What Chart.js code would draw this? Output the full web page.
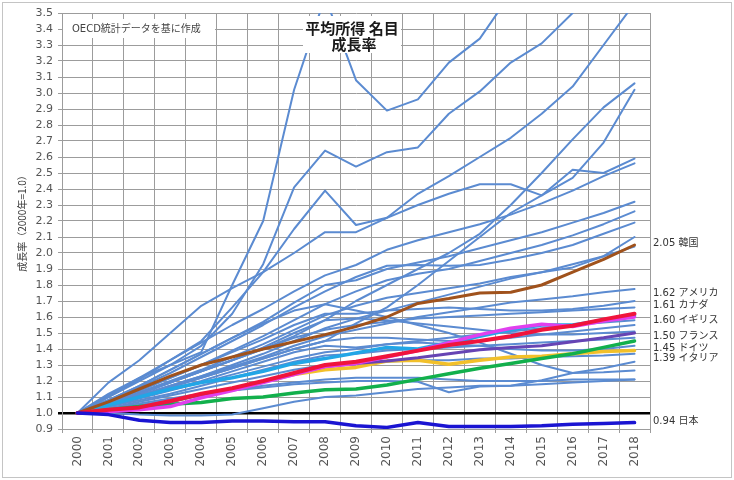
<!DOCTYPE html>
<html lang="ja">
<head>
<meta charset="utf-8">
<title>平均所得 名目 成長率</title>
<script src="https://cdn.jsdelivr.net/npm/chart.js@4.4.1/dist/chart.umd.min.js"></script>
<style>
  html, body { margin: 0; padding: 0; background: #fff; }
</style>
</head>
<body>
<canvas id="chart" width="734" height="480"></canvas>
<script>
// ——— 平均所得（名目）成長率, 2000年 = 1.0 ———
const years = ["2000", "2001", "2002", "2003", "2004", "2005", "2006", "2007", "2008", "2009",
  "2010", "2011", "2012", "2013", "2014", "2015", "2016", "2017", "2018"];

const yTicks = { min: 0.9, max: 3.5, step: 0.1 };

// highlighted countries
const korea   = [1.00, 1.07, 1.15, 1.23, 1.30, 1.35, 1.40, 1.445, 1.49, 1.54, 1.60, 1.685, 1.715, 1.75, 1.755, 1.80, 1.88, 1.96, 2.05];
const usa     = [1.00, 1.02, 1.035, 1.075, 1.12, 1.155, 1.20, 1.25, 1.30, 1.32, 1.355, 1.39, 1.425, 1.45, 1.48, 1.52, 1.545, 1.585, 1.62];
const canada  = [1.00, 1.05, 1.10, 1.15, 1.19, 1.22, 1.26, 1.31, 1.34, 1.375, 1.41, 1.40, 1.44, 1.48, 1.52, 1.55, 1.55, 1.58, 1.61];
const uk      = [1.00, 1.01, 1.02, 1.04, 1.095, 1.14, 1.19, 1.24, 1.29, 1.31, 1.35, 1.39, 1.44, 1.49, 1.53, 1.555, 1.54, 1.575, 1.60];
const france  = [1.00, 1.02, 1.035, 1.07, 1.115, 1.15, 1.195, 1.245, 1.29, 1.31, 1.325, 1.345, 1.37, 1.395, 1.41, 1.42, 1.445, 1.47, 1.50];
const germany = [1.00, 1.02, 1.04, 1.055, 1.065, 1.09, 1.10, 1.125, 1.145, 1.15, 1.175, 1.21, 1.245, 1.28, 1.31, 1.34, 1.37, 1.41, 1.45];
const italy   = [1.00, 1.02, 1.035, 1.07, 1.115, 1.15, 1.195, 1.24, 1.27, 1.285, 1.325, 1.33, 1.305, 1.33, 1.35, 1.355, 1.37, 1.385, 1.39];
const japan   = [1.00, 0.99, 0.955, 0.94, 0.94, 0.95, 0.95, 0.945, 0.945, 0.92, 0.91, 0.94, 0.915, 0.915, 0.915, 0.92, 0.93, 0.935, 0.94];

// other OECD countries (plain blue lines)
const otherCountries = [
  [1.00, 1.12, 1.22, 1.30, 1.38, 1.80, 2.20, 3.02, 3.60, 3.08, 2.89, 2.96, 3.19, 3.34, 3.62, 3.95, 4.25, 4.55, 4.85],
  [1.00, 1.10, 1.20, 1.30, 1.42, 1.62, 1.93, 2.41, 2.64, 2.54, 2.63, 2.66, 2.87, 3.01, 3.19, 3.31, 3.50, 3.75, 4.00],
  [1.00, 1.11, 1.22, 1.33, 1.45, 1.66, 1.88, 2.15, 2.39, 2.175, 2.22, 2.30, 2.37, 2.43, 2.43, 2.36, 2.52, 2.50, 2.59],
  [1.00, 1.19, 1.33, 1.50, 1.67, 1.78, 1.88, 2.00, 2.13, 2.13, 2.22, 2.37, 2.48, 2.60, 2.72, 2.87, 3.04, 3.30, 3.56],
  [1.00, 1.10, 1.21, 1.33, 1.44, 1.55, 1.65, 1.76, 1.86, 1.925, 2.02, 2.08, 2.13, 2.18, 2.24, 2.31, 2.39, 2.48, 2.56],
  [1.00, 1.08, 1.17, 1.27, 1.37, 1.47, 1.57, 1.69, 1.80, 1.83, 1.90, 1.94, 1.98, 2.03, 2.08, 2.13, 2.19, 2.25, 2.32],
  [1.00, 1.06, 1.12, 1.19, 1.26, 1.33, 1.40, 1.48, 1.58, 1.70, 1.80, 1.90, 2.00, 2.12, 2.30, 2.50, 2.71, 2.91, 3.06],
  [1.00, 1.05, 1.10, 1.16, 1.22, 1.28, 1.34, 1.40, 1.45, 1.56, 1.66, 1.80, 1.95, 2.10, 2.25, 2.36, 2.47, 2.69, 3.02],
  [1.00, 1.08, 1.16, 1.25, 1.35, 1.45, 1.55, 1.66, 1.76, 1.85, 1.92, 1.925, 1.92, 1.925, 1.96, 2.00, 2.05, 2.12, 2.19],
  [1.00, 1.07, 1.14, 1.22, 1.30, 1.39, 1.48, 1.58, 1.68, 1.76, 1.83, 1.87, 1.90, 1.95, 2.00, 2.05, 2.11, 2.18, 2.26],
  [1.00, 1.06, 1.13, 1.20, 1.27, 1.35, 1.43, 1.52, 1.61, 1.67, 1.72, 1.75, 1.78, 1.81, 1.85, 1.88, 1.91, 1.98, 2.10],
  [1.00, 1.05, 1.11, 1.17, 1.23, 1.30, 1.37, 1.45, 1.53, 1.59, 1.64, 1.69, 1.74, 1.79, 1.84, 1.88, 1.93, 1.98, 2.04],
  [1.00, 1.05, 1.11, 1.17, 1.23, 1.29, 1.35, 1.42, 1.48, 1.52, 1.56, 1.60, 1.63, 1.66, 1.69, 1.71, 1.73, 1.755, 1.775],
  [1.00, 1.07, 1.14, 1.22, 1.30, 1.38, 1.46, 1.55, 1.62, 1.62, 1.64, 1.65, 1.66, 1.65, 1.64, 1.64, 1.65, 1.67, 1.70],
  [1.00, 1.06, 1.12, 1.19, 1.26, 1.33, 1.40, 1.47, 1.52, 1.55, 1.57, 1.59, 1.60, 1.61, 1.62, 1.63, 1.64, 1.65, 1.66],
  [1.00, 1.08, 1.17, 1.27, 1.37, 1.47, 1.56, 1.64, 1.68, 1.64, 1.60, 1.55, 1.50, 1.44, 1.37, 1.30, 1.25, 1.255, 1.265],
  [1.00, 1.04, 1.09, 1.14, 1.19, 1.24, 1.29, 1.34, 1.38, 1.40, 1.43, 1.45, 1.47, 1.49, 1.51, 1.53, 1.55, 1.565, 1.58],
  [1.00, 1.05, 1.10, 1.16, 1.22, 1.28, 1.34, 1.40, 1.45, 1.47, 1.47, 1.46, 1.45, 1.45, 1.47, 1.49, 1.51, 1.53, 1.55],
  [1.00, 1.04, 1.08, 1.12, 1.17, 1.22, 1.27, 1.32, 1.36, 1.37, 1.39, 1.40, 1.41, 1.42, 1.43, 1.44, 1.45, 1.46, 1.47],
  [1.00, 1.06, 1.12, 1.19, 1.26, 1.33, 1.41, 1.50, 1.58, 1.59, 1.58, 1.56, 1.54, 1.52, 1.50, 1.49, 1.49, 1.50, 1.51],
  [1.00, 1.05, 1.10, 1.15, 1.20, 1.26, 1.32, 1.38, 1.42, 1.41, 1.43, 1.44, 1.43, 1.42, 1.40, 1.39, 1.39, 1.40, 1.42],
  [1.00, 1.03, 1.07, 1.11, 1.15, 1.19, 1.23, 1.27, 1.30, 1.31, 1.32, 1.33, 1.33, 1.34, 1.34, 1.35, 1.355, 1.36, 1.37],
  [1.00, 1.03, 1.06, 1.09, 1.12, 1.14, 1.16, 1.18, 1.19, 1.20, 1.20, 1.195, 1.13, 1.165, 1.17, 1.205, 1.25, 1.28, 1.32],
  [1.00, 1.02, 1.05, 1.08, 1.11, 1.14, 1.17, 1.19, 1.21, 1.22, 1.22, 1.22, 1.21, 1.20, 1.20, 1.20, 1.21, 1.21, 1.21],
  [1.00, 1.00, 0.99, 0.985, 0.985, 0.99, 1.03, 1.07, 1.10, 1.11, 1.13, 1.15, 1.16, 1.17, 1.17, 1.18, 1.19, 1.20, 1.21]
];

// highlighted series: name, data, colour, width, draw order (lower = on top)
const highlights = [
  { name: "日本",     data: japan,   color: "#1a14d2", width: 3.5, order: 0 },
  { name: "アメリカ", data: usa,     color: "#f0143c", width: 4,   order: 1 },
  { name: "イギリス", data: uk,      color: "#e040ee", width: 3.5, order: 2 },
  { name: "韓国",     data: korea,   color: "#a0521c", width: 3,   order: 3 },
  { name: "フランス", data: france,  color: "#6644b4", width: 3,   order: 4 },
  { name: "ドイツ",   data: germany, color: "#12b04c", width: 3.5, order: 5 },
  { name: "イタリア", data: italy,   color: "#f2c02a", width: 3.5, order: 6 },
  { name: "カナダ",   data: canada,  color: "#22a6e6", width: 3.5, order: 7 }
];

// right-hand labels, top to bottom; LABEL_AT is where each sits on the y axis
const labelOrder = ["韓国", "アメリカ", "カナダ", "イギリス", "フランス", "ドイツ", "イタリア", "日本"];
const LABEL_AT = [2.062, 1.75, 1.67, 1.577, 1.477, 1.406, 1.344, 0.946];

const BLUE = "#5b8bd1";
const GRID = "#9c9c9c";
const FONT = "'DejaVu Sans', 'Noto Sans CJK JP', sans-serif";

const datasets = [];
highlights.forEach(h => {
  datasets.push({
    label: h.name, data: h.data, borderColor: h.color, backgroundColor: h.color,
    borderWidth: h.width, order: h.order
  });
});
otherCountries.forEach((d, i) => {
  datasets.push({
    label: "OECD" + (i + 1), data: d, borderColor: BLUE, backgroundColor: BLUE,
    borderWidth: 2, order: 10
  });
});

const decor = {
  id: "decor",
  beforeDraw(chart) {
    const c = chart.ctx;
    c.save();
    c.fillStyle = "#fff";
    c.fillRect(0, 0, chart.width, chart.height);
    c.restore();
  },
  afterDatasetsDraw(chart) {
    const c = chart.ctx;
    const a = chart.chartArea;
    c.save();
    // source note
    c.fillStyle = "#fff";
    c.fillRect(a.left + 1, a.top + 6, 152, 19);
    c.fillStyle = "#444";
    c.font = "10px " + FONT;
    c.textBaseline = "middle";
    c.textAlign = "left";
    c.fillText("OECD統計データを基に作成", a.left + 10, a.top + 16);
    // title box
    c.fillStyle = "#fff";
    c.fillRect(a.left + 241, a.top + 3, 98, 37);
    c.fillStyle = "#1a1a1a";
    c.font = "bold 15px 'Noto Sans CJK JP', sans-serif";
    c.textAlign = "center";
    c.fillText("平均所得 名目", a.left + 290, a.top + 15);
    c.fillText("成長率", a.left + 292, a.top + 31);
    c.restore();
  },
  afterDraw(chart) {
    const c = chart.ctx;
    const a = chart.chartArea;
    const y = chart.scales.y;
    c.save();
    c.fillStyle = "#333";
    c.font = "10px " + FONT;
    c.textBaseline = "middle";
    c.textAlign = "left";
    labelOrder.forEach((name, i) => {
      const h = highlights.find(s => s.name === name);
      const last = h.data[h.data.length - 1];
      c.fillText(last.toFixed(2) + " " + name, a.right + 3, y.getPixelForValue(LABEL_AT[i]));
    });
    // outer frame
    c.strokeStyle = "#c4c4c4";
    c.lineWidth = 1;
    c.strokeRect(2.5, 2.5, chart.width - 5, chart.height - 5);
    c.restore();
  }
};

new Chart(document.getElementById("chart"), {
  type: "line",
  data: { labels: years, datasets },
  options: {
    responsive: false,
    animation: false,
    layout: { padding: { top: 13, right: 84, left: 0, bottom: 0 } },
    elements: {
      point: { radius: 0, hoverRadius: 0 },
      line: { tension: 0, borderCapStyle: "round", borderJoinStyle: "round" }
    },
    plugins: { legend: { display: false }, tooltip: { enabled: false } },
    scales: {
      x: {
        offset: true,
        grid: { offset: true, color: GRID, lineWidth: 1, tickLength: 4, drawOnChartArea: true },
        border: { color: GRID },
        ticks: {
          autoSkip: false, minRotation: 90, maxRotation: 90, padding: 3,
          color: "#555", font: { family: FONT, size: 12 }
        },
        afterFit(s) { s.height = 51; }
      },
      y: {
        min: yTicks.min,
        max: yTicks.max,
        grid: {
          tickLength: 4,
          color: ctx => (ctx.tick && Math.abs(ctx.tick.value - 1) < 1e-6 ? "#000" : GRID),
          lineWidth: ctx => (ctx.tick && Math.abs(ctx.tick.value - 1) < 1e-6 ? 2.5 : 1)
        },
        border: { color: GRID },
        ticks: {
          stepSize: yTicks.step, maxTicksLimit: 40, autoSkip: false, padding: 5,
          color: "#555", font: { family: FONT, size: 11 },
          callback: v => Number(v).toFixed(1)
        },
        title: {
          display: true, text: "成長率（2000年=1.0）", color: "#333",
          font: { family: "'Noto Sans CJK JP', sans-serif", size: 10 },
          padding: { top: 16, bottom: 0 }
        },
        afterFit(s) { s.width = 62; }
      }
    }
  },
  plugins: [decor]
});
</script>
</body>
</html>
